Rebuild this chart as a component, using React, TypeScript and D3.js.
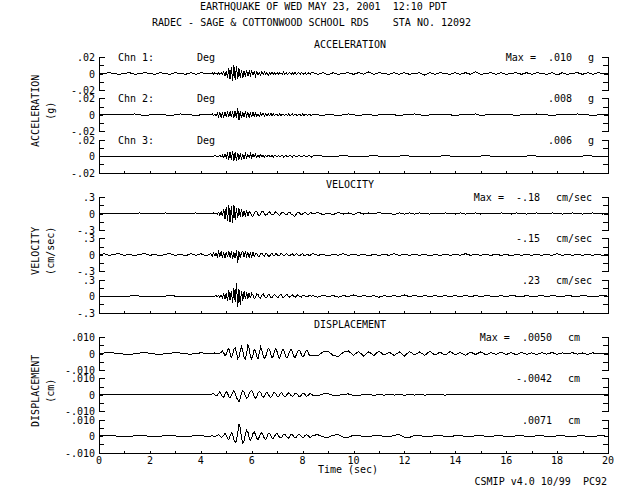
import React from "react";
import * as d3 from "d3";

// ---------- data ----------
const titleLine1 = "EARTHQUAKE OF WED MAY 23, 2001  12:10 PDT";
const titleLine2 = "RADEC - SAGE & COTTONWOOD SCHOOL RDS    STA NO. 12092";
const footer = "CSMIP v4.0 10/99  PC92";
const xLabel = "Time (sec)";

const groupTitles = ["ACCELERATION", "VELOCITY", "DISPLACEMENT"];
const groupUnits = ["(g)", "(cm/sec)", "(cm)"];
const unitLabels = ["g", "cm/sec", "cm"];
const scaleLabels = [
  [".02", "0", "-.02"],
  [".3", "0", "-.3"],
  [".010", "0", "-.010"],
];
const fullScale = [0.02, 0.3, 0.01];
const unitFactor = [0.001, 0.01, 0.0001];
const maxLabels = [
  [".010", ".008", ".006"],
  ["-.18", "-.15", ".23"],
  [".0050", "-.0042", ".0071"],
];
const channelLabels = ["Chn 1:", "Chn 2:", "Chn 3:"];
const channelOrient = ["Deg", "Deg", "Deg"];
const xTicks = d3.range(0, 21, 1);
const xTickLabels = d3.range(0, 21, 2);

// sampling: pre 0..4.2 (dt .2), main from 4.4 (dt .05), tail after main (dt .2)
const acc1Pre = [0,0,1,0,-1,0,1,-1,0,1,0,-1,1,0,-1,1,0,-1,1,-1,1,0];
const acc1Main = [0,1,-1,1,0,-1,1,-1,1,-1, 2,-3,3,-5,6,-7,8,-9,10,-8, 9,-7,6,-5,4,-5,3,-4,4,-3, 3,-2,3,-2,2,-3,2,-2,1,-2, 2,-1,2,-1,1,-2,1,-1,2,-1, 1,-1,1,-1,1,0,-1,2,-1,1, -1,0,1,-1,1,-1,2,-1,0,1, -1,1,0,-1,1,-1,0,1,-1,1];
const acc1Tail = [1,-1,1,-2,1,-1,0,1,-1,1,-1,2,-1,1,0,-1,1,-1,1,-1,0,1,-2,1,-1,1,0,-1,1,-1,1,-1,2,-1,0,1,-1,1,-1,0,1,-1,1,-1,1,0,-1,1,-2,1,-1,0,1,-1,1,-1,1,0,0];

const acc2Pre = [0,0,0,0,0,0,0,1,0,-1,0,0,1,0,-1,0,1,0,0,-1,0,1];
const acc2Main = [0,1,-1,1,-1,2,-2,3,-3,2, -3,3,-2,3,-3,4,-3,4,-4,5, -4,8,-6,4,-4,3,-3,4,-2,3, -3,2,-2,3,-2,2,-2,1,-2,2, -1,2,-2,1,-1,1,-1,2,-1,1, -1,1,0,-1,1,-1,1,0,-1,1, -1,1,-1,0,1,-1,1,0,-1,1, 0,-1,1,-1,1,0,-1,1,0,-1];
const acc2Tail = [1,0,-1,1,0,-1,0,1,0,-1,0,1,-1,0,0,1,0,-1,0,0,1,0,-1,0,0,0,1,0,-1,0,0,0,1,-1,0,0,0,1,0,0,-1,0,0,0,1,0,0,-1,0,0,0,0,1,0,0,-1,0,0,0];

const acc3Pre = [0,0,0,0,0,0,0,0,0,0,0,0,0,0,0,0,0,0,0,0,0,0];
const acc3Main = [0,0,0,1,0,-1,0,1,-1,1, -2,2,-2,3,-4,5,-5,6,-6,5, -6,4,-4,3,-3,2,-3,3,-2,2, -2,3,-2,2,-1,2,-2,1,-1,2, -1,1,-1,1,-1,1,0,-1,1,-1, 1,0,-1,1,-1,0,1,-1,0,1, -1,0,1,0,-1,1,0,-1,0,1, 0,-1,0,1,0,-1,0,1,0,-1];
const acc3Tail = [0,1,0,-1,0,0,1,0,-1,0,0,0,1,0,-1,0,0,0,1,0,0,-1,0,0,0,0,1,0,0,-1,0,0,0,0,1,0,0,0,-1,0,0,0,0,1,0,0,0,0,-1,0,0,0,0,0,1,0,0,0,0];

const vel1Pre = [0,0,0,0,0,0,0,0,1,0,0,0,0,1,0,0,0,0,0,1,0,0];
const vel1Main = [0,0,1,-1,1,-1,2,-3,4,-5, 8,-10,12,-14,15,-16,14,-18,16,-12, 10,-8,9,-6,8,-7,5,-6,7,-5, 4,1,-4,-5,0,4,3,-2,-4,-1, 3,3,-1,-3,-2,2,3,0,-3,-2, 1,3,1,-2,-3,0,2,2,-1,-2, -1,2,2,-1,-2,-4,-5,-1,2,2, 0,-2,-1,1,2,0,-2,-1,1,1];
const vel1Tail = [-1,2,-2,1,-2,2,-1,1,-2,2,-1,1,-1,2,-1,1,-2,1,-1,1,-1,1,0,-1,1,-1,1,0,-1,1,-1,0,1,-1,1,0,-1,1,0,-1,1,0,-1,0,1,0,-1,1,0,-1,0,1,0,-1,0,1,0,-1,0];

const vel2Pre = [0,2,-1,1,2,-1,1,-2,1,2,-1,1,-2,1,2,-1,1,-2,2,-1,2,-2];
const vel2Main = [2,-2,3,-2,3,-4,5,-3,6,-5, 4,-6,5,-4,7,-5,6,-7,5,-6, 8,-15,6,-5,4,6,-4,5,-3,4, -5,3,-4,5,-3,2,3,-2,-3,2, 3,-1,-3,2,2,-2,-3,1,3,-1, -2,2,1,-2,-1,2,1,-2,-1,2, 1,-1,-2,1,2,-1,-1,2,1,-2, -1,1,2,-1,-2,1,1,-1,-1,1];
const vel2Tail = [2,-1,1,-2,1,-1,2,-1,1,-1,1,-2,1,-1,1,-1,2,-1,1,-1,1,-1,1,-2,1,-1,1,-1,1,-1,2,-1,1,-1,1,-1,1,-1,1,-2,1,-1,1,-1,1,-1,1,-1,2,-1,1,-1,1,-1,1,-1,1,-1,1];

const vel3Pre = [0,0,0,0,0,0,0,1,0,0,0,0,0,0,1,0,0,0,0,0,0,0];
const vel3Main = [0,0,0,0,1,-1,1,-2,2,-3, 4,-5,6,-8,10,-7,9,-12,14,-10, 23,-20,12,-16,10,-8,9,-6,7,-5, 6,-4,5,2,-4,-3,4,3,-3,-4, 2,4,0,-3,-2,3,2,-2,-3,1, 3,0,-2,-2,2,3,-1,-3,0,2, 2,-1,-2,1,2,0,-2,-1,2,1, -1,-2,1,2,0,-1,-1,1,1,-1];
const vel3Tail = [1,-2,2,-1,1,-2,1,-1,2,-1,1,-1,1,-2,1,-1,1,-1,2,-1,1,-1,1,-1,1,-1,1,-1,1,-1,1,-1,1,-1,1,0,-1,1,-1,1,0,-1,1,-1,0,1,-1,1,0,-1,1,0,-1,1,0,-1,0,1,0];

const dis1Pre = [0,3,6,3,0,-4,-6,-2,3,5,2,-3,-5,-2,2,5,3,-2,-4,0,4,2];
const dis1Main = [0,-3,0,4,2,-3,-2,3,8,15, 5,-15,-5,20,30,0,-25,-10,25,35, 5,-30,-20,15,40,20,-25,-35,0,50, 30,-15,-35,-10,25,15,-20,-30,5,40, 20,-10,-30,-20,10,30,25,-5,-25,-15, 15,30,10,-20,-30,-5,20,25,0,-20, -25,-5,15,25,10,-15,-25,-10,10,20, 15,-5,-20,-15,5,20,15,-5,-15,-10];
const dis1Tail = [-10,-15,10,15,-12,-18,8,15,-10,12,-15,10,-12,15,-10,8,-12,10,-15,12,-8,10,-12,15,-10,8,-10,12,-8,6,-10,8,-6,10,-8,6,-5,8,-6,5,-8,6,-5,4,-6,5,-4,6,-5,4,-3,5,-4,3,-5,4,-3,2,0];

const dis2Pre = [0,0,0,0,0,0,0,0,0,0,0,0,0,0,0,0,0,0,0,0,0,0];
const dis2Main = [0,5,10,0,-8,-5,10,18,5,-12, -15,5,20,10,-10,-20,-5,15,25,10, -15,-30,-42,-20,10,25,15,-5,-20,-15, 5,20,25,10,-10,-20,-10,10,20,15, -5,-15,-10,10,15,5,-10,-15,-5,10, 15,5,-10,-12,0,12,10,-5,-12,-8, 5,12,8,-5,-10,-5,8,10,3,-8, -10,-2,8,8,0,-8,-6,3,8,4];
const dis2Tail = [-4,-6,5,6,-4,-5,4,5,-3,-5,4,3,-4,3,-3,4,-2,3,-3,2,-2,3,-2,2,-1,2,-2,1,-1,2,-1,1,-1,1,0,-1,1,0,-1,1,0,-1,0,1,0,-1,0,1,0,0,-1,0,1,0,0,-1,0,0,0];

const dis3Pre = [0,2,4,2,-2,-4,-2,2,4,2,-2,-4,-1,3,4,1,-3,-4,0,3,2,0];
const dis3Main = [0,3,0,-3,0,5,8,0,-8,-5, 5,15,5,-15,-20,0,20,10,-20,-40, -30,20,71,50,-10,-40,-30,10,35,25, -10,-25,-10,15,25,10,-15,-20,-5,15, 20,5,-15,-20,-5,15,18,5,-12,-15, 0,12,15,3,-10,-12,-2,10,12,2, -10,-12,0,10,10,-2,-10,-8,3,10, 8,-3,-10,-6,4,8,5,-4,-8,-3];
const dis3Tail = [5,8,-5,-8,6,8,-6,-6,5,6,-5,-5,4,6,-4,-5,6,8,-6,-8,5,5,-4,-4,3,5,-3,-4,3,4,-3,-3,2,4,-2,-3,3,2,-2,-3,2,3,-2,-2,2,2,-2,-2,1,2,-1,-2,1,2,-1,-1,1,1,0];

const traces = [
  [[acc1Pre, acc1Main, acc1Tail], [acc2Pre, acc2Main, acc2Tail], [acc3Pre, acc3Main, acc3Tail]],
  [[vel1Pre, vel1Main, vel1Tail], [vel2Pre, vel2Main, vel2Tail], [vel3Pre, vel3Main, vel3Tail]],
  [[dis1Pre, dis1Main, dis1Tail], [dis2Pre, dis2Main, dis2Tail], [dis3Pre, dis3Main, dis3Tail]],
];

// ---------- layout ----------
const W = 640, H = 491;
const X0 = 99, X1 = 608;
const FIRST_ZERO = 73.5, GROUP_STEP = 140, TRACE_STEP = 41.3, HALF = 16.6;
const FONT = "'DejaVu Sans Mono', 'Liberation Mono', monospace";
const valueRight = [572, 540, 552];

const px = (v: number) => Math.round(v) + 0.5;

function buildPoints(segs: number[][], factor: number) {
  const [pre, main, tail] = segs;
  const pts: [number, number][] = [];
  pre.forEach((v, i) => {
    const t = i * 0.2;
    if (t < 4.4 - 1e-6) pts.push([t, v * factor]);
  });
  main.forEach((v, i) => pts.push([4.4 + i * 0.05, v * factor]));
  const t0 = 4.4 + main.length * 0.05;
  tail.forEach((v, i) => {
    const t = t0 + i * 0.2;
    if (t <= 20 + 1e-6) pts.push([t, v * factor]);
  });
  const last = pts[pts.length - 1];
  if (last[0] < 20) pts.push([20, last[1]]);
  return pts;
}

export default function App() {
  const x = d3.scaleLinear().domain([0, 20]).range([X0, X1]);
  const els: React.ReactNode[] = [];
  const txt = (key: string, xx: number, yy: number, s: string, anchor = "start", extra: any = {}) => (
    <text key={key} x={xx} y={yy} textAnchor={anchor} fontFamily={FONT} fontSize={10} fill="#000" style={{ whiteSpace: "pre" }} {...extra}>{s}</text>
  );

  els.push(txt("t1", 200, 10, titleLine1));
  els.push(txt("t2", 152, 26, titleLine2));

  for (let g = 0; g < 3; g++) {
    const gz0 = FIRST_ZERO + g * GROUP_STEP;
    els.push(txt(`gt${g}`, 350, gz0 - 25.5, groupTitles[g], "middle"));
    const cy = gz0 + TRACE_STEP - 4;
    els.push(txt(`gl${g}`, 0, 0, groupTitles[g], "middle", { transform: `translate(39,${cy}) rotate(-90)` }));
    els.push(txt(`gu${g}`, 0, 0, groupUnits[g], "middle", { transform: `translate(54,${cy}) rotate(-90)` }));

    for (let j = 0; j < 3; j++) {
      const zero = gz0 + j * TRACE_STEP;
      const top = zero - HALF, bot = zero + HALF;
      const y = d3.scaleLinear().domain([-fullScale[g], fullScale[g]]).range([bot, top]);
      const pts = buildPoints(traces[g][j], unitFactor[g]);
      const line = d3.line<[number, number]>().x(d => x(d[0])).y(d => y(d[1]));
      els.push(<path key={`p${g}${j}`} d={line(pts) || ""} fill="none" stroke="#000" strokeWidth={1} shapeRendering="crispEdges" />);

      // brackets
      const last = j === 2;
      const yt = px(top), yb = px(bot), yq1 = px(y(fullScale[g] / 2)), yq2 = px(y(-fullScale[g] / 2)), yz = px(y(0));
      let dl = `M${X0 + 6},${yt}H${px(X0)}V${yb}` + (last ? "" : `H${X0 + 6}`) + `M${px(X0)},${yq1}H${X0 + 5}M${px(X0)},${yq2}H${X0 + 5}M${px(X0)},${yz}H${X0 + 4}`;
      let dr = `M${X1 - 6},${yt}H${px(X1)}V${yb}` + (last ? "" : `H${X1 - 6}`) + `M${px(X1)},${yq1}H${X1 - 5}M${px(X1)},${yq2}H${X1 - 5}M${px(X1)},${yz}H${X1 - 4}`;
      els.push(<path key={`bl${g}${j}`} d={dl} fill="none" stroke="#000" strokeWidth={1} shapeRendering="crispEdges" />);
      els.push(<path key={`br${g}${j}`} d={dr} fill="none" stroke="#000" strokeWidth={1} shapeRendering="crispEdges" />);

      // scale labels
      els.push(txt(`sl${g}${j}a`, 95, top + 4, scaleLabels[g][0], "end"));
      els.push(txt(`sl${g}${j}b`, 95, zero + 4, scaleLabels[g][1], "end"));
      els.push(txt(`sl${g}${j}c`, 95, bot + 4, scaleLabels[g][2], "end"));

      if (g === 0) {
        els.push(txt(`ch${j}`, 118, top + 4, channelLabels[j]));
        els.push(txt(`or${j}`, 197, top + 4, channelOrient[j]));
      }
      const vr = valueRight[g];
      els.push(txt(`mv${g}${j}`, vr, top + 4, maxLabels[g][j], "end"));
      els.push(txt(`mu${g}${j}`, vr + 16, top + 4, unitLabels[g]));
      if (j === 0) {
        const vl = vr - maxLabels[g][0].length * 6.02;
        els.push(txt(`mx${g}`, vl - 12, top + 4, "Max =", "end"));
      }

      if (last) {
        let da = `M${px(X0)},${yb}H${px(X1)}`;
        xTicks.forEach(t => { da += `M${px(x(t))},${yb}V${yb - 3}`; });
        els.push(<path key={`ax${g}`} d={da} fill="none" stroke="#000" strokeWidth={1} shapeRendering="crispEdges" />);
        if (g === 2) {
          xTickLabels.forEach(t => els.push(txt(`xl${t}`, x(t), bot + 11, String(t), "middle")));
        }
      }
    }
  }

  els.push(txt("xlab", 348, 473, xLabel, "middle"));
  els.push(txt("foot", 607, 485, footer, "end"));

  return (
    <svg width={W} height={H} viewBox={`0 0 ${W} ${H}`} style={{ position: "absolute", left: 0, top: 0, background: "#fff" }}>
      <rect x={0} y={0} width={W} height={H} fill="#fff" />
      {els}
    </svg>
  );
}
